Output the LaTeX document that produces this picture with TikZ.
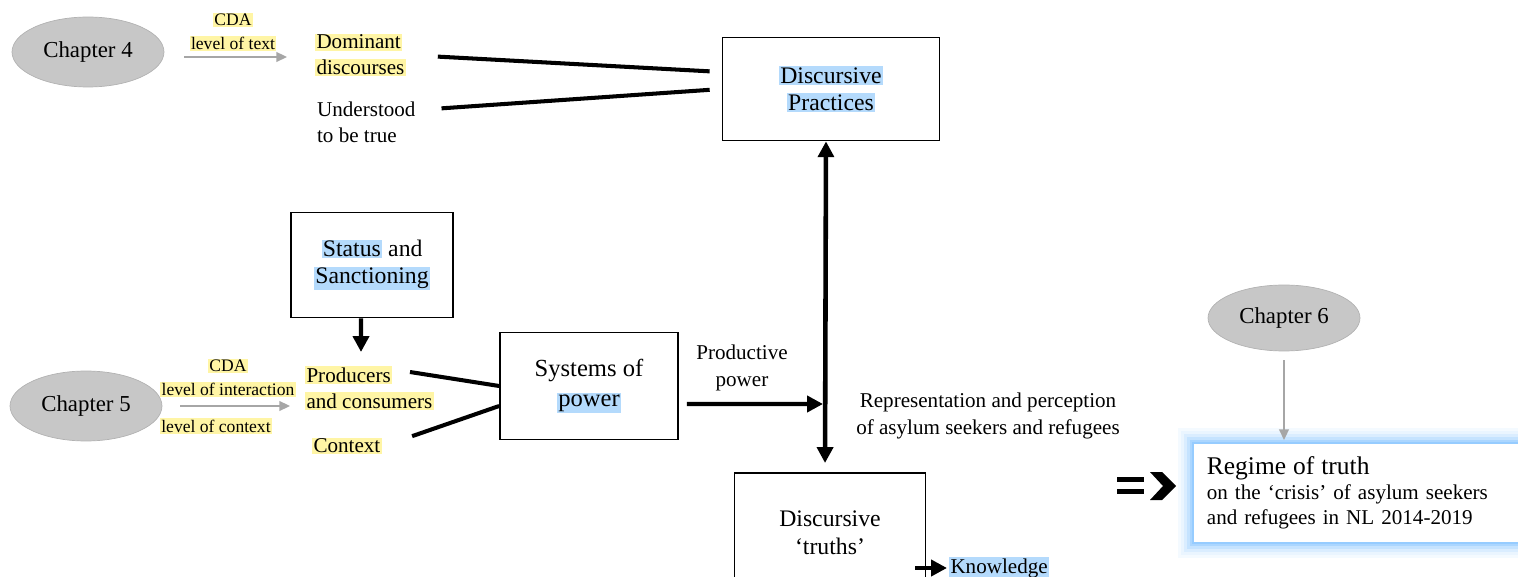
\documentclass[tikz,border=0pt]{standalone}
\usepackage{fontspec}
\setmainfont{Liberation Serif}
\usepackage{xcolor}
\usetikzlibrary{
  arrows,
  arrows.meta,
  shapes.geometric,
  positioning,
  calc
}
\definecolor{glowyellow}{RGB}{255,245,165}
\definecolor{glowblue}{RGB}{180,218,252}
\definecolor{edgeblue}{RGB}{150,204,255}
\newcommand{\yglow}[1]{{\setlength{\fboxsep}{0.8pt}\colorbox{glowyellow}{#1}}}
\newcommand{\bglow}[1]{{\setlength{\fboxsep}{0.8pt}\colorbox{glowblue}{#1}}}

\begin{document}
\begin{tikzpicture}[x=0.02cm,y=-0.02cm,
      chapter/.style={
         ellipse,
         fill=black!22,
         draw=black!30,
         minimum width=3.04cm,
         minimum height=1.4cm,
         font=\fontsize{13}{15}\selectfont
      },
      concept/.style={
         rectangle,
         draw=black,
         line width=1pt,
         fill=white,
         align=center,
         font=\fontsize{13.5}{15.5}\selectfont
      },
      textlabel/.style={align=left, inner sep=1pt, font=\fontsize{12}{14.7}\selectfont},
      cda/.style={align=center, inner sep=1pt, font=\fontsize{10}{13.6}\selectfont},
      note/.style={align=center, inner sep=1pt, font=\fontsize{12}{15}\selectfont},
      >={Triangle[length=9pt,width=9pt]},
      tip/.style={->, line width=2.3pt},
      link/.style={line width=2.3pt},
      grey tip/.style={-{Triangle[length=6pt,width=5.5pt]}, draw=black!35, fill=black!35, line width=1pt},
      regimebox/.style={
         rectangle,
         fill=white,
         draw=edgeblue,
         line width=1pt,
         preaction={draw=edgeblue!10, line width=0.6cm},
         preaction={draw=edgeblue!20, line width=0.48cm},
         preaction={draw=edgeblue!35, line width=0.36cm},
         preaction={draw=edgeblue!55, line width=0.24cm},
         preaction={draw=edgeblue!80, line width=0.12cm},
         text width=6.6cm,
         inner xsep=0.28cm,
         minimum height=2cm,
         align=left,
         font=\fontsize{12}{14.2}\selectfont
      }
    ]
    \useasboundingbox (0,0) rectangle (1518,577);
    \clip (0,0) rectangle (1518,577);

    % chapter 4: level of text
    \node (ch4) [chapter] at (88,52) {Chapter 4};
    \node (cdatext) [cda] at (233,32) {\yglow{CDA}\\\yglow{level of text}};
    \node (dom) [textlabel, anchor=west] at (313,55) {\yglow{Dominant}\\\yglow{discourses}};
    \node (und) [textlabel, anchor=west] at (315,122) {Understood\\to be true};
    \node (prac) [concept, minimum width=4.34cm, minimum height=2.06cm] at (831,89)
       {\bglow{Discursive}\\\bglow{Practices}};

    % chapter 5: level of interaction / context
    \node (stat) [concept, minimum width=3.24cm, minimum height=2.1cm] at (372,265)
       {\bglow{Status} and\\\bglow{Sanctioning}};
    \node (prod) [textlabel, anchor=west] at (303,388) {\yglow{Producers}\\\yglow{and consumers}};
    \node (ctx) [textlabel, anchor=west] at (310,446) {\yglow{Context}};
    \node (sys) [concept, minimum width=3.56cm, minimum height=2.14cm,
       font=\fontsize{14}{17}\selectfont] at (589,386) {Systems of\\\bglow{power}};
    \node (ch5) [chapter] at (86,406) {Chapter 5};
    \node (cdainter) [cda] at (228,378) {\yglow{CDA}\\\yglow{level of interaction}};
    \node (cdactx) [cda] at (216,426) {\yglow{level of context}};
    \node (prodpow) [note] at (742,368) {Productive\\power};
    \node (repr) [note] at (988,416) {Representation and perception\\of asylum seekers and refugees};
    \node (truth) [concept, minimum width=3.82cm, minimum height=2.4cm, anchor=north] at (830,472)
       {Discursive\\‘truths’};
    \node (knw) [textlabel, anchor=west] at (947,568) {\bglow{Knowledge}};

    % chapter 6: regime of truth
    \node (ch6) [chapter, minimum height=1.32cm] at (1284,318) {Chapter 6};
    \node (regime) [regimebox, anchor=north west] at (1192,442)
       {{\fontsize{14.5}{17}\selectfont Regime of truth}\\
        on the ‘crisis’ of asylum seekers\\
        and refugees in NL 2014-2019};

    \coordinate (prodtop) at (361,352);
    \coordinate (prodout) at (410,372);
    \coordinate (meet) at (823,404);

    % connectors
    \draw[grey tip, shorten <=0.4cm, shorten >=0.52cm] ([yshift=-0.1cm]ch4.east) -- ([yshift=-0.1cm]ch4.east -| dom.west);
    \draw[link, shorten <=0.6cm, shorten >=0.24cm] (dom.east) -- ([yshift=0.34cm]prac.west);
    \draw[link, shorten <=0.48cm, shorten >=0.24cm] ([yshift=0.24cm]und.east) -- (prac.west);
    \draw[<->, line width=2.6pt, shorten >=0.18cm] ([xshift=-0.1cm]prac.south) -- ([xshift=-0.1cm]truth.north);
    \draw[tip] ([xshift=-0.22cm]stat.south) -- (prodtop);
    \draw[link] (prodout) -- (sys.west);
    \draw[link, shorten <=0.6cm] (ctx.east) -- ([yshift=-0.4cm]sys.west);
    \draw[grey tip, shorten <=0.36cm, shorten >=0.26cm] (ch5.east) -- (ch5.east -| prod.west);
    \draw[tip, shorten <=0.16cm] ([yshift=-0.36cm]sys.east) -- (meet);
    \draw[tip] ([xshift=-0.64cm]knw.west) -- (knw.west);
    \draw[grey tip, shorten <=0.18cm, shorten >=0.04cm] (ch6.south) -- (ch6.south |- regime.north);

    % "=>" sign
    \fill (1117,477) rectangle (1144,482);
    \fill (1117,489) rectangle (1144,494);
    \fill (1150,472) -- (1162,472) -- (1176,486) -- (1162,500) -- (1150,500) -- (1163,486) -- cycle;
\end{tikzpicture}
\end{document}
